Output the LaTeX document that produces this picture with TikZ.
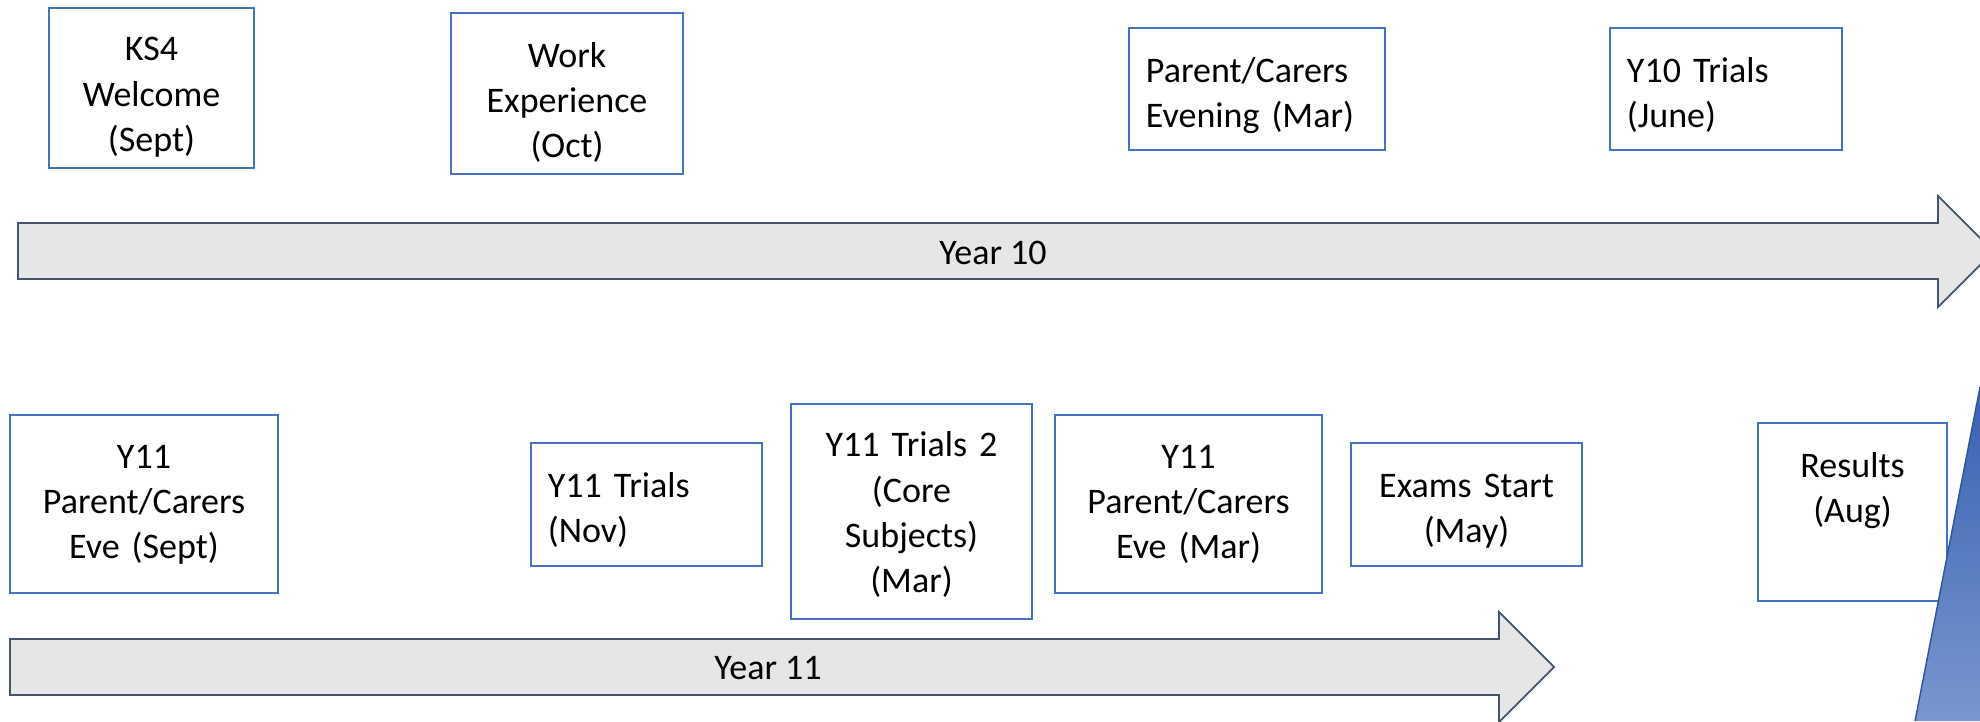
\documentclass[tikz,border=0pt]{standalone}
\usepackage{fontspec}
\setmainfont{Carlito}
\definecolor{boxblue}{HTML}{4472C4}
\definecolor{arrowgrey}{HTML}{E7E6E6}
\definecolor{arrowline}{HTML}{44546A}
\definecolor{wedgetop}{HTML}{3762B1}
\definecolor{wedgebot}{HTML}{7A96CF}
\definecolor{wedgeline}{HTML}{2F5597}

\def\px{0.01}

\begin{document}
\begin{tikzpicture}[x=\px cm, y=-\px cm, font=\fontsize{10.24}{12.8}\selectfont]
	\tikzset{event/.style={draw=boxblue, line width=0.45pt, inner xsep=0.17cm, inner ysep=0.05cm, outer sep=0pt,
			execute at begin node={\rule{0pt}{#1}}, execute at end node={\rule[-0.1cm]{0pt}{0pt}}},
		event/.default=0.4cm,
		timeline/.style={draw=arrowline, fill=arrowgrey, line width=0.5pt, line join=miter}}
	\fill[white] (0,0) rectangle (1980,721);
	\clip (0,0) rectangle (1980,721);
	% year 10
	\draw[timeline] (18,223) -- (1938,223) -- (1938,196) -- (1993.5,251.5) -- (1938,307) -- (1938,279) -- (18,279) -- cycle;
	\node(y10) at (993,253){Year 10};
	\node[event=0.46cm, text width=1.71cm, minimum height=1.60cm, align=center](ks4) at (151.5,88){KS4\\Welcome\\(Sept)};
	\node[event=0.47cm, text width=1.98cm, minimum height=1.61cm, align=center](work) at (567,93.5){Work\\Experience\\(Oct)};
	\node[event=0.41cm, text width=2.22cm, minimum height=1.22cm, align=left](pce) at (1257,89){Parent/Carers\\Evening (Mar)};
	\node[event=0.41cm, text width=1.98cm, minimum height=1.22cm, align=left](y10t) at (1726,89){Y10 Trials\\(June)};
	% year 11
	\draw[timeline] (10,639) -- (1499,639) -- (1499,612) -- (1554,667) -- (1499,722) -- (1499,695) -- (10,695) -- cycle;
	\node(y11) at (768,668){Year 11};
	\node[event=0.28cm, text width=2.34cm, minimum height=1.78cm, align=center](y11pcs) at (144,504){Y11\\Parent/Carers\\Eve (Sept)};
	\node[event=0.40cm, text width=1.97cm, minimum height=1.23cm, align=left](y11t) at (646.5,504.5){Y11 Trials\\(Nov)};
	\node[event=0.36cm, text width=2.07cm, minimum height=2.15cm, align=center](y11t2) at (911.5,511.5){Y11 Trials 2\\(Core\\Subjects)\\(Mar)};
	\node[event=0.28cm, text width=2.33cm, minimum height=1.78cm, align=center](y11pcm) at (1188.5,504){Y11\\Parent/Carers\\Eve (Mar)};
	\node[event=0.40cm, text width=1.97cm, minimum height=1.23cm, align=center](exams) at (1466.5,504.5){Exams Start\\(May)};
	\node[event=0.30cm, text width=1.55cm, minimum height=1.78cm, align=center](results) at (1852.5,512){Results\\(Aug)\\~};
	% corner
	\shade[top color=wedgetop, bottom color=wedgebot] (1980,387) -- (1915,721) -- (1980,721) -- cycle;
	\draw[wedgeline, line width=0.4pt] (1980,387) -- (1915,721);
\end{tikzpicture}
\end{document}
